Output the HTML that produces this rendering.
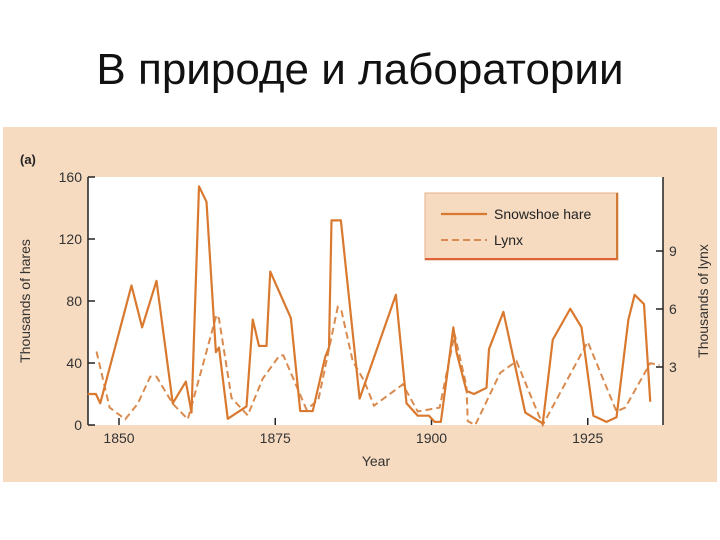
<!DOCTYPE html>
<html><head><meta charset="utf-8"><style>
body{margin:0;width:720px;height:540px;background:#fff;overflow:hidden;font-family:"Liberation Sans",sans-serif}
</style></head><body>
<svg width="720" height="540" style="position:absolute;left:0;top:0">
<text x="360" y="84" text-anchor="middle" font-size="44" fill="#111" font-family="Liberation Sans, sans-serif">В природе и лаборатории</text>
<rect x="3" y="127" width="714" height="355" fill="#f6dbc1"/>
<text x="20" y="164" font-size="13" font-weight="bold" fill="#222">(a)</text>
<rect x="88" y="177" width="575" height="248" fill="#fff"/>
<g id="axes"></g>
<g id="series"></g>
<g>
<rect x="425" y="193" width="193" height="67" fill="#f6dbc1" stroke="#e6b088" stroke-width="1"/>
<line x1="425" y1="259" x2="618" y2="259" stroke="#e0603a" stroke-width="2"/>
<line x1="617" y1="193" x2="617" y2="260" stroke="#d07a38" stroke-width="2"/>
<line x1="441" y1="214" x2="487" y2="214" stroke="#d9792f" stroke-width="2.2"/>
<text x="494" y="219" font-size="14" fill="#222">Snowshoe hare</text>
<line x1="441" y1="240" x2="487" y2="240" stroke="#d98b4f" stroke-width="2" stroke-dasharray="7,4"/>
<text x="494" y="245" font-size="14" fill="#222">Lynx</text>
</g>
<text x="376" y="466" font-size="14" fill="#333" text-anchor="middle">Year</text>
<text transform="translate(30,301) rotate(-90)" font-size="14" fill="#333" text-anchor="middle">Thousands of hares</text>
<text transform="translate(708,301) rotate(-90)" font-size="14" fill="#333" text-anchor="middle">Thousands of lynx</text>
</svg>
<script>
const hareYears=[1845,1846.3,1847,1852,1853.7,1856,1858.6,1860.7,1861.6,1862.8,1864,1865.5,1866,1867.4,1870.4,1871.4,1872.4,1873.6,1874.2,1877.5,1879,1881,1883,1883.6,1884,1885.5,1888.5,1894.3,1896,1897.8,1899.6,1900.5,1901.5,1903.5,1904,1905.6,1906.8,1908.8,1909.2,1911.5,1915,1917.8,1919.4,1922.2,1924,1925.9,1928,1929.6,1931.5,1932.5,1934,1935];
const hareValues=[20,20,14,90,63,93,14,28,8,154,144,47,50,4,12,68,51,51,99,69,9,9,44,50,132,132,17,84,14,6,6,2,2,63,47,22,20,24,49,73,8,1,55,75,63,6,2,5,68,84,78,15];
const lynxYears=[1846.4,1848.5,1851,1853,1855,1856,1858.6,1861,1861.8,1865.6,1866,1868,1870.6,1873,1875.7,1876.3,1880,1881.9,1885,1885.6,1887.4,1889.2,1890.8,1895.4,1897.8,1901.3,1903.7,1905.6,1905.8,1907,1911,1913.6,1917.8,1925,1929.6,1931,1935,1936.5];
const lynxValues=[3.8,0.9,0.3,1.1,2.5,2.5,1.1,0.3,1.2,5.7,5.5,1.4,0.5,2.4,3.6,3.6,0.8,1.3,6.1,5.9,3.3,2.3,1.0,2.1,0.7,0.9,4.7,2.0,0.2,0,2.7,3.3,0,4.3,0.7,0.9,3.2,3.1];
const xTicks=[1850,1875,1900,1925];
const hareTicks=[0,40,80,120,160];
const lynxTicks=[3,6,9];
const NS='http://www.w3.org/2000/svg';
const X=y=>119+(y-1850)*6.25;
const YH=v=>425-v*248/160;
const YL=v=>425-v*58/3;
function mk(tag,attrs,parent){const e=document.createElementNS(NS,tag);for(const k in attrs)e.setAttribute(k,attrs[k]);parent.appendChild(e);return e;}
const axes=document.getElementById('axes'),series=document.getElementById('series');
let e;
e=mk('line',{x1:88,y1:177,x2:88,y2:425,stroke:'#222','stroke-width':1.5},axes);


e=mk('line',{x1:663,y1:177,x2:663,y2:425,stroke:'#222','stroke-width':1.5},axes);


hareTicks.forEach(t=>{
 e=mk('line',{x1:88,y1:YH(t),x2:95,y2:YH(t),stroke:'#222','stroke-width':1.5},axes);
 
 
 e=mk('text',{x:82,y:YH(t)+5,'font-size':14,fill:'#333','text-anchor':'end'},axes);e.textContent=t;
 
 
});
lynxTicks.forEach(t=>{
 e=mk('line',{x1:656,y1:YL(t),x2:663,y2:YL(t),stroke:'#222','stroke-width':1.5},axes);
 
 
 e=mk('text',{x:669,y:YL(t)+5,'font-size':14,fill:'#333'},axes);e.textContent=t;
 
 
});
xTicks.forEach(t=>{
 e=mk('line',{x1:X(t),y1:418,x2:X(t),y2:425,stroke:'#222','stroke-width':1.5},axes);
 
 
 e=mk('text',{x:X(t),y:443,'font-size':14,fill:'#333','text-anchor':'middle'},axes);e.textContent=t;
 
 
});
e=mk('polyline',{points:lynxYears.map((y,i)=>X(y)+','+YL(lynxValues[i])).join(' '),fill:'none',stroke:'#d98b4f','stroke-width':2,'stroke-dasharray':'7,4'},series);


e=mk('polyline',{points:hareYears.map((y,i)=>X(y)+','+YH(hareValues[i])).join(' '),fill:'none',stroke:'#d9792f','stroke-width':2.2,'stroke-linejoin':'round'},series);


</script>
</body></html>
